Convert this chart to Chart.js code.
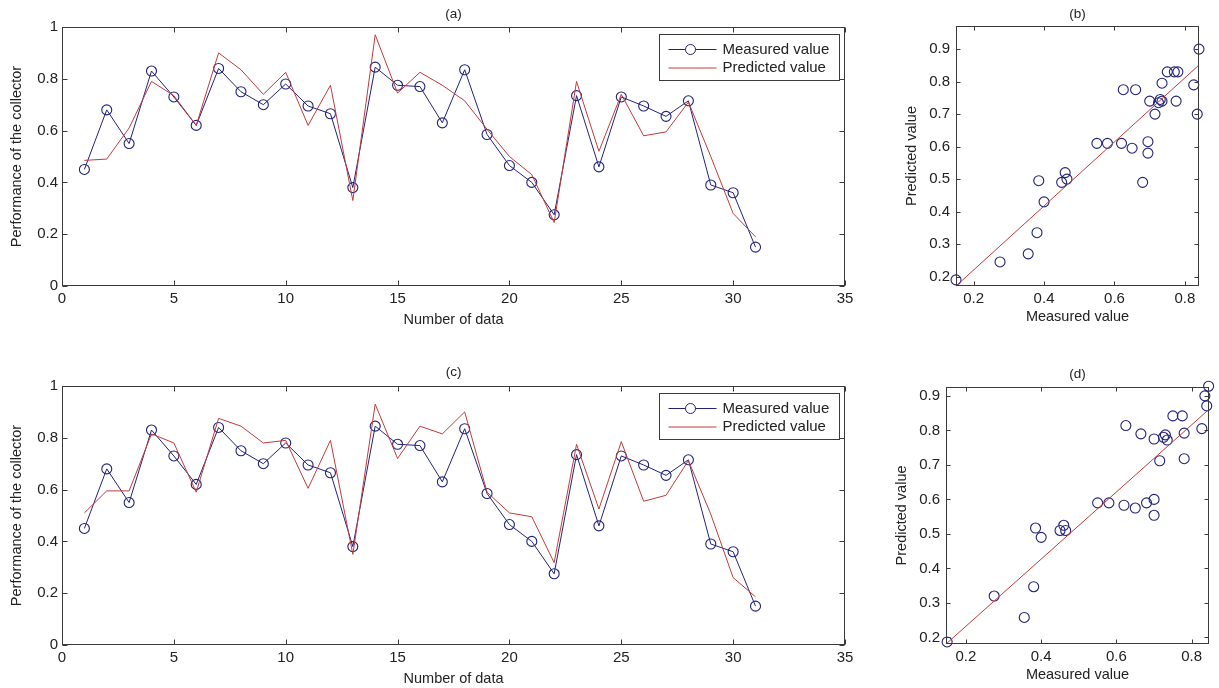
<!DOCTYPE html>
<html>
<head>
<meta charset="utf-8">
<script src="https://cdn.jsdelivr.net/npm/chart.js@4.4.1/dist/chart.umd.min.js"></script>
<style>
  body { margin: 0; background: #fff; }
  #wrap { position: relative; width: 1219px; height: 688px; }
  canvas { position: absolute; }
</style>
</head>
<body>
<div id="wrap">
  <canvas id="chartA" width="880" height="340" style="left:0px;top:0px"></canvas>
  <canvas id="chartB" width="339" height="340" style="left:880px;top:0px"></canvas>
  <canvas id="chartC" width="880" height="348" style="left:0px;top:340px"></canvas>
  <canvas id="chartD" width="339" height="348" style="left:880px;top:340px"></canvas>
</div>
<script>
// numero de dato (eje x de las series)
const indices = [1,2,3,4,5,6,7,8,9,10,11,12,13,14,15,16,17,18,19,20,21,22,23,24,25,26,27,28,29,30,31];

const measured = [0.45,0.68,0.55,0.83,0.73,0.62,0.84,0.75,0.70,0.78,0.695,0.665,0.38,0.845,0.775,0.77,
                  0.63,0.835,0.585,0.465,0.40,0.275,0.735,0.46,0.73,0.695,0.655,0.715,0.39,0.36,0.15];
const predictedA = [0.485,0.49,0.61,0.79,0.735,0.62,0.90,0.835,0.74,0.825,0.62,0.775,0.33,0.97,0.745,0.825,
                    0.775,0.715,0.605,0.50,0.43,0.245,0.79,0.52,0.74,0.58,0.595,0.71,0.50,0.28,0.19];
const predictedC = [0.51,0.595,0.595,0.815,0.78,0.59,0.875,0.845,0.78,0.79,0.605,0.79,0.35,0.93,0.72,0.845,
                    0.815,0.90,0.59,0.51,0.495,0.318,0.775,0.525,0.785,0.555,0.578,0.712,0.505,0.26,0.186];

// dispersion (b)
const bMeasured = [0.15,0.275,0.355,0.38,0.385,0.40,0.45,0.46,0.465,0.55,0.58,0.62,0.625,0.65,0.66,0.68,
                   0.695,0.695,0.70,0.715,0.725,0.73,0.735,0.735,0.75,0.77,0.78,0.775,0.825,0.84,0.835];
const bPredicted = [0.19,0.245,0.27,0.335,0.495,0.43,0.49,0.52,0.50,0.61,0.61,0.61,0.775,0.595,0.775,0.49,
                    0.615,0.58,0.74,0.70,0.735,0.745,0.795,0.74,0.83,0.83,0.83,0.74,0.79,0.90,0.70];
const bFitX = [0.15, 0.84];
const bFitY = [0.171, 0.851];

// dispersion (d)
const dMeasured = [0.15,0.275,0.355,0.38,0.385,0.40,0.45,0.46,0.465,0.55,0.58,0.62,0.625,0.65,0.665,0.68,
                   0.70,0.70,0.70,0.715,0.725,0.73,0.735,0.75,0.775,0.78,0.78,0.827,0.835,0.84,0.845];
const dPredicted = [0.187,0.32,0.258,0.347,0.517,0.49,0.51,0.525,0.51,0.59,0.59,0.583,0.814,0.575,0.79,0.59,
                    0.60,0.554,0.775,0.712,0.78,0.787,0.772,0.842,0.842,0.718,0.792,0.805,0.90,0.871,0.928];
const dFitX = [0.147, 0.846];
const dFitY = [0.181, 0.861];

const lineXTicks = [0,5,10,15,20,25,30,35];
const lineYTicks = [0,0.2,0.4,0.6,0.8,1];
const scatterXTicks = [0.2,0.4,0.6,0.8];
const scatterYTicks = [0.2,0.3,0.4,0.5,0.6,0.7,0.8,0.9];

const seriesNames = ['Measured value', 'Predicted value'];
const panelTitles = ['(a)', '(b)', '(c)', '(d)'];
const xTitleLine = 'Number of data';
const yTitleLine = 'Performance of the collector';
const xTitleScatter = 'Measured value';
const yTitleScatter = 'Predicted value';

const AZUL = '#22227a';
const ROJO = '#c43a3a';
const EJE = '#3a3a3a';

Chart.defaults.font.family = '"Liberation Sans", Arial, sans-serif';
Chart.defaults.color = '#222';

function pares(xs, ys) {
    return xs.map((v, i) => ({ x: v, y: ys[i] }));
}

// caja tipo matlab con marcas hacia dentro y leyenda dentro del grafico
const marco = {
    id: 'marco',
    afterDatasetsDraw(chart, args, opts) {
        const { ctx, chartArea: a, scales } = chart;
        const L = Math.round(a.left) + 0.5, R = Math.round(a.right) - 0.5;
        const T = Math.round(a.top) + 0.5, B = Math.round(a.bottom) - 0.5;
        const len = opts.tick;
        ctx.save();
        ctx.strokeStyle = EJE;
        ctx.lineWidth = 1;
        ctx.strokeRect(L, T, R - L, B - T);
        ctx.beginPath();
        scales.x.ticks.forEach((t) => {
            const px = Math.round(scales.x.getPixelForValue(t.value)) + 0.5;
            ctx.moveTo(px, B); ctx.lineTo(px, B - len);
            ctx.moveTo(px, T); ctx.lineTo(px, T + len);
        });
        scales.y.ticks.forEach((t) => {
            const py = Math.round(scales.y.getPixelForValue(t.value)) + 0.5;
            ctx.moveTo(L, py); ctx.lineTo(L + len, py);
            ctx.moveTo(R, py); ctx.lineTo(R - len, py);
        });
        ctx.stroke();

        if (opts.legend) {
            const w = 180, h = 46;
            const bx = Math.round(a.right) - 6 - w + 0.5;
            const by = Math.round(a.top) + 7 + 0.5;
            ctx.fillStyle = '#fff';
            ctx.fillRect(bx, by, w, h);
            ctx.strokeRect(bx, by, w, h);
            ctx.font = '15px "Liberation Sans", Arial, sans-serif';
            ctx.textBaseline = 'middle';
            chart.data.datasets.forEach((ds, i) => {
                const yy = by + 15 + i * 18.5;
                ctx.strokeStyle = ds.borderColor;
                ctx.beginPath();
                ctx.moveTo(bx + 9, yy);
                ctx.lineTo(bx + 57, yy);
                ctx.stroke();
                if (ds.pointRadius > 0) {
                    ctx.beginPath();
                    ctx.arc(bx + 31, yy, ds.pointRadius, 0, Math.PI * 2);
                    ctx.fillStyle = '#fff';
                    ctx.fill();
                    ctx.stroke();
                }
                ctx.fillStyle = '#222';
                ctx.fillText(ds.label, bx + 63, yy);
            });
        }
        ctx.restore();
    }
};

function ejes(xr, yr, xt, yt, xTitle, yTitle, dims) {
    const fuenteTick = { size: 15 };
    return {
        x: {
            type: 'linear', min: xr[0], max: xr[1],
            grid: { display: false, drawTicks: false },
            border: { display: false },
            ticks: { font: fuenteTick, padding: 4, maxRotation: 0, autoSkip: false,
                     callback: (v) => String(+v.toFixed(2)) },
            afterBuildTicks: (s) => { s.ticks = xt.map((v) => ({ value: v })); },
            afterFit: (s) => { s.height = dims.xH; s.paddingLeft = 0; s.paddingRight = 0; },
            title: { display: true, text: xTitle, font: { size: 14.5 }, padding: { top: 0, bottom: dims.xPad } }
        },
        y: {
            type: 'linear', min: yr[0], max: yr[1],
            grid: { display: false, drawTicks: false },
            border: { display: false },
            ticks: { font: fuenteTick, padding: dims.yTickPad, autoSkip: false,
                     callback: (v) => String(+v.toFixed(2)) },
            afterBuildTicks: (s) => { s.ticks = yt.map((v) => ({ value: v })); },
            afterFit: (s) => { s.width = dims.yW; s.paddingTop = 0; s.paddingBottom = 0; },
            title: { display: true, text: yTitle, font: { size: 14.5 }, padding: { top: dims.yPad, bottom: 0 } }
        }
    };
}

function opciones(titulo, escalas, dims, conLeyenda, tick) {
    return {
        responsive: false,
        animation: false,
        devicePixelRatio: 1,
        layout: { autoPadding: false, padding: { top: dims.top, right: dims.right, left: 0, bottom: 0 } },
        scales: escalas,
        plugins: {
            legend: { display: false },
            tooltip: { enabled: false },
            title: { display: true, text: titulo, fullSize: false, font: { size: 13.5, weight: 'normal' },
                     color: '#222', padding: { top: 6, bottom: dims.titleBottom } },
            marco: { legend: conLeyenda, tick: tick }
        }
    };
}

function graficoLinea(id, titulo, prediccion, dims) {
    new Chart(document.getElementById(id), {
        type: 'line',
        data: {
            datasets: [{
                label: seriesNames[0],
                data: pares(indices, measured),
                borderColor: AZUL, borderWidth: 1,
                pointRadius: 5, pointBorderColor: AZUL, pointBorderWidth: 1.1,
                pointBackgroundColor: 'rgba(0,0,0,0)', tension: 0, clip: false, order: 1
            }, {
                label: seriesNames[1],
                data: pares(indices, prediccion),
                borderColor: ROJO, borderWidth: 1,
                pointRadius: 0, tension: 0, clip: false, order: 0
            }]
        },
        options: opciones(titulo,
            ejes([0, 35], [0, 1], lineXTicks, lineYTicks, xTitleLine, yTitleLine, dims),
            dims, true, 5),
        plugins: [marco]
    });
}

function graficoDispersion(id, titulo, xs, ys, fx, fy, xr, yr, dims) {
    new Chart(document.getElementById(id), {
        type: 'scatter',
        data: {
            datasets: [{
                label: 'datos',
                data: pares(xs, ys),
                pointRadius: 5, pointBorderColor: AZUL, pointBorderWidth: 1.1,
                pointBackgroundColor: 'rgba(0,0,0,0)', clip: false, order: 1
            }, {
                type: 'line',
                label: 'ajuste',
                data: pares(fx, fy),
                borderColor: ROJO, borderWidth: 1, pointRadius: 0, clip: false, order: 0
            }]
        },
        options: opciones(titulo,
            ejes(xr, yr, scatterXTicks, scatterYTicks, xTitleScatter, yTitleScatter, dims),
            dims, false, 4),
        plugins: [marco]
    });
}

graficoLinea('chartA', panelTitles[0], predictedA,
    { top: 0, right: 35, titleBottom: 4.8, yW: 62, xH: 54, yPad: 8.3, xPad: 11.8, yTickPad: 4 });
graficoLinea('chartC', panelTitles[2], predictedC,
    { top: 18.5, right: 35, titleBottom: 5.3, yW: 62, xH: 43, yPad: 8.3, xPad: 0, yTickPad: 4 });
graficoDispersion('chartB', panelTitles[1], bMeasured, bPredicted, bFitX, bFitY, [0.15, 0.84], [0.171, 0.971],
    { top: 0, right: 20, titleBottom: 3.8, yW: 76, xH: 54, yPad: 23, xPad: 14.6, yTickPad: 6 });
graficoDispersion('chartD', panelTitles[3], dMeasured, dPredicted, dFitX, dFitY, [0.147, 0.846], [0.181, 0.926],
    { top: 20.5, right: 10, titleBottom: 4.2, yW: 66, xH: 44, yPad: 13, xPad: 4.3, yTickPad: 6 });
</script>
</body>
</html>
